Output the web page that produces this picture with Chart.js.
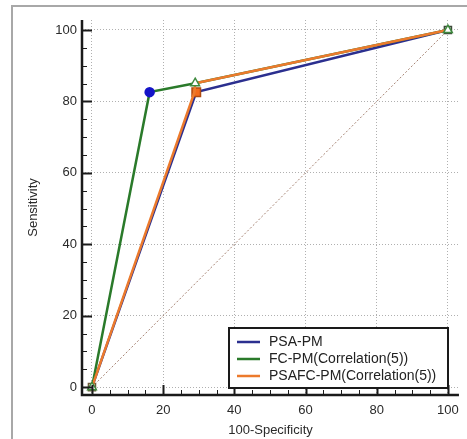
<!DOCTYPE html>
<html>
<head>
<meta charset="utf-8">
<script src="https://cdn.jsdelivr.net/npm/chart.js@4.4.0/dist/chart.umd.min.js"></script>
<style>
  html, body { margin: 0; padding: 0; background: #fff; }
  canvas { display: block; }
</style>
</head>
<body>
<canvas id="roc" width="467" height="439"></canvas>
<script>
// ROC curves (x = 100-Specificity, y = Sensitivity)
const seriesNames = ['PSA-PM', 'FC-PM(Correlation(5))', 'PSAFC-PM(Correlation(5))'];
const seriesColors = ['#2b2f8f', '#2a7a2a', '#ec7a2c'];

const psaX = [0, 29.3, 100];
const psaY = [0, 82.6, 100];

const fcX = [0, 16.2, 29.0, 100];
const fcY = [0, 82.6, 85.1, 100];

const psafcX = [0, 28.8, 29.0, 100];
const psafcY = [0, 82.6, 85.1, 100];

const diagX = [0, 100];
const diagY = [0, 100];

const tickValues = [0, 20, 40, 60, 80, 100];
const minorStep = 5;

function toPoints(xs, ys) {
  return xs.map((x, i) => ({ x: x, y: ys[i] }));
}

const FONT = '"Liberation Sans", Arial, sans-serif';

// frame, axis lines, inward tick marks, legend box
const decorPlugin = {
  id: 'decor',
  beforeDraw(chart) {
    const ctx = chart.ctx;
    ctx.save();
    ctx.fillStyle = '#fff';
    ctx.fillRect(0, 0, chart.width, chart.height);
    ctx.strokeStyle = '#a8a8a8';
    ctx.lineWidth = 2;
    ctx.beginPath();
    ctx.moveTo(12, chart.height);
    ctx.lineTo(12, 6);
    ctx.lineTo(chart.width, 6);
    ctx.stroke();
    ctx.restore();
  },
  afterDraw(chart) {
    const ctx = chart.ctx;
    const a = chart.chartArea;
    const xs = chart.scales.x, ys = chart.scales.y;
    ctx.save();
    ctx.strokeStyle = '#1a1a1a';
    // ticks
    for (let v = 0; v <= 100; v += minorStep) {
      const major = v % 20 === 0;
      const len = major ? 10 : 5;
      ctx.lineWidth = major ? 2 : 1;
      const px = Math.round(xs.getPixelForValue(v)) + 0.5;
      const py = Math.round(ys.getPixelForValue(v)) + 0.5;
      ctx.beginPath();
      ctx.moveTo(px, a.bottom);
      ctx.lineTo(px, a.bottom - len);
      ctx.moveTo(a.left, py);
      ctx.lineTo(a.left + len, py);
      ctx.stroke();
    }
    // axis lines
    ctx.lineWidth = 2.5;
    ctx.beginPath();
    ctx.moveTo(a.left, a.top);
    ctx.lineTo(a.left, a.bottom);
    ctx.lineTo(a.right, a.bottom);
    ctx.stroke();

    // legend
    const bx = 229, by = 328, bw = 219, bh = 60;
    ctx.fillStyle = '#fff';
    ctx.fillRect(bx, by, bw, bh);
    ctx.lineWidth = 2;
    ctx.strokeStyle = '#1a1a1a';
    ctx.strokeRect(bx, by, bw, bh);
    ctx.font = '14px ' + FONT;
    ctx.textBaseline = 'middle';
    ctx.fillStyle = '#222';
    seriesNames.forEach((name, i) => {
      const ry = by + 14 + i * 17;
      ctx.strokeStyle = seriesColors[i];
      ctx.lineWidth = 2.5;
      ctx.beginPath();
      ctx.moveTo(237, ry);
      ctx.lineTo(260, ry);
      ctx.stroke();
      ctx.fillText(name, 269, ry);
    });
    ctx.restore();
  }
};

new Chart(document.getElementById('roc'), {
  type: 'scatter',
  data: {
    datasets: [
      {
        label: 'diag',
        data: toPoints(diagX, diagY),
        showLine: true,
        borderColor: '#a78474',
        borderWidth: 1,
        borderDash: [2, 2],
        pointRadius: 0,
        order: 4
      },
      {
        label: seriesNames[0],
        data: toPoints(psaX, psaY),
        showLine: true,
        borderColor: seriesColors[0],
        borderWidth: 2.5,
        pointStyle: 'rect',
        pointRadius: [5, 6, 5],
        pointBackgroundColor: ['#f6e9d8', '#f26a1b', '#e8eadf'],
        pointBorderColor: ['#6b5a3a', '#b04a10', '#3d4a3a'],
        pointBorderWidth: 1.5,
        order: 3
      },
      {
        label: seriesNames[1],
        data: toPoints(fcX, fcY),
        showLine: true,
        borderColor: seriesColors[1],
        borderWidth: 2.5,
        pointStyle: 'circle',
        pointRadius: [0, 4, 0, 0],
        pointBackgroundColor: '#1414c8',
        pointBorderColor: '#1414c8',
        order: 2
      },
      {
        label: seriesNames[2],
        data: toPoints(psafcX, psafcY),
        showLine: true,
        borderColor: seriesColors[2],
        borderWidth: 2.5,
        pointStyle: 'triangle',
        pointRadius: [5, 0, 5, 5],
        pointBackgroundColor: '#ffffff',
        pointBorderColor: '#3f8a3f',
        pointBorderWidth: 1.5,
        order: 1
      }
    ]
  },
  options: {
    responsive: false,
    animation: false,
    layout: { padding: { left: 0, right: 8, top: 20, bottom: 0 } },
    plugins: {
      legend: { display: false },
      tooltip: { enabled: false }
    },
    scales: {
      x: {
        type: 'linear',
        min: -2.8,
        max: 103.1,
        afterBuildTicks: (s) => { s.ticks = tickValues.map(v => ({ value: v })); },
        afterFit: (s) => { s.height = 44; },
        grid: { color: '#b0b0b0', lineWidth: 1, drawTicks: false },
        border: { display: false, dash: [1, 2] },
        ticks: { padding: 8, color: '#2a2a2a', font: { family: FONT, size: 13 } },
        title: { display: true, text: '100-Specificity', color: '#2a2a2a', padding: { top: 0, bottom: 1 }, font: { family: FONT, size: 13 } }
      },
      y: {
        type: 'linear',
        min: -2.2,
        max: 102.8,
        afterBuildTicks: (s) => { s.ticks = tickValues.map(v => ({ value: v })); },
        afterFit: (s) => { s.width = 82; },
        grid: { color: '#b0b0b0', lineWidth: 1, drawTicks: false },
        border: { display: false, dash: [1, 2] },
        ticks: { padding: 5, color: '#2a2a2a', font: { family: FONT, size: 13 } },
        title: { display: true, text: 'Sensitivity', color: '#2a2a2a', padding: { top: 26, bottom: 0 }, font: { family: FONT, size: 13 } }
      }
    }
  },
  plugins: [decorPlugin]
});
</script>
</body>
</html>
